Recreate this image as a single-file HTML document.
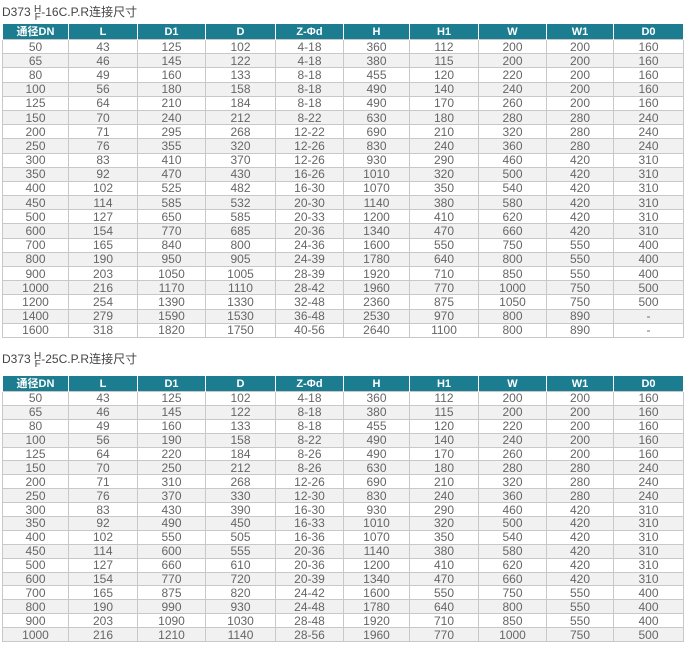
<!DOCTYPE html>
<html><head><meta charset="utf-8"><style>
body{margin:0;width:685px;height:648px;background:#fff;position:relative;overflow:hidden;font-family:"Liberation Sans","Noto Sans CJK SC",sans-serif;}
.t{position:absolute;left:2px;font-size:12px;color:#444;}
table{position:absolute;left:2px;border-collapse:collapse;table-layout:fixed;width:681px;font-size:12px;color:#666;}
td,th{border:1px solid #c8c8c8;text-align:center;padding:0;line-height:12px;overflow:hidden;white-space:nowrap;}
th{background:#1c7d90;color:#fff;font-weight:bold;font-size:11px;border-color:#fff;border-top:none;border-bottom:none;}
#a td{height:13.2px}
#b td{height:12.9px}
th{height:15px}
tr:nth-child(odd) td{background:#f1f1f1}
.f{display:inline-block;font-size:10px;line-height:8px;vertical-align:-4px;text-align:center}
</style></head><body>
<div class="t" style="top:3px">D373 <span class="f">H<br>F</span>-16C.P.R连接尺寸</div>
<table id="a" style="top:24px">
<colgroup><col style="width:66px"><col style="width:69px"><col style="width:68px"><col style="width:70px"><col style="width:68px"><col style="width:66px"><col style="width:69px"><col style="width:68px"><col style="width:67px"><col style="width:70px"></colgroup>
<tr><th>通径DN</th><th>L</th><th>D1</th><th>D</th><th>Z-Φd</th><th>H</th><th>H1</th><th>W</th><th>W1</th><th>D0</th></tr>
<tr><td>50</td><td>43</td><td>125</td><td>102</td><td>4-18</td><td>360</td><td>112</td><td>200</td><td>200</td><td>160</td></tr>
<tr><td>65</td><td>46</td><td>145</td><td>122</td><td>4-18</td><td>380</td><td>115</td><td>200</td><td>200</td><td>160</td></tr>
<tr><td>80</td><td>49</td><td>160</td><td>133</td><td>8-18</td><td>455</td><td>120</td><td>220</td><td>200</td><td>160</td></tr>
<tr><td>100</td><td>56</td><td>180</td><td>158</td><td>8-18</td><td>490</td><td>140</td><td>240</td><td>200</td><td>160</td></tr>
<tr><td>125</td><td>64</td><td>210</td><td>184</td><td>8-18</td><td>490</td><td>170</td><td>260</td><td>200</td><td>160</td></tr>
<tr><td>150</td><td>70</td><td>240</td><td>212</td><td>8-22</td><td>630</td><td>180</td><td>280</td><td>280</td><td>240</td></tr>
<tr><td>200</td><td>71</td><td>295</td><td>268</td><td>12-22</td><td>690</td><td>210</td><td>320</td><td>280</td><td>240</td></tr>
<tr><td>250</td><td>76</td><td>355</td><td>320</td><td>12-26</td><td>830</td><td>240</td><td>360</td><td>280</td><td>240</td></tr>
<tr><td>300</td><td>83</td><td>410</td><td>370</td><td>12-26</td><td>930</td><td>290</td><td>460</td><td>420</td><td>310</td></tr>
<tr><td>350</td><td>92</td><td>470</td><td>430</td><td>16-26</td><td>1010</td><td>320</td><td>500</td><td>420</td><td>310</td></tr>
<tr><td>400</td><td>102</td><td>525</td><td>482</td><td>16-30</td><td>1070</td><td>350</td><td>540</td><td>420</td><td>310</td></tr>
<tr><td>450</td><td>114</td><td>585</td><td>532</td><td>20-30</td><td>1140</td><td>380</td><td>580</td><td>420</td><td>310</td></tr>
<tr><td>500</td><td>127</td><td>650</td><td>585</td><td>20-33</td><td>1200</td><td>410</td><td>620</td><td>420</td><td>310</td></tr>
<tr><td>600</td><td>154</td><td>770</td><td>685</td><td>20-36</td><td>1340</td><td>470</td><td>660</td><td>420</td><td>310</td></tr>
<tr><td>700</td><td>165</td><td>840</td><td>800</td><td>24-36</td><td>1600</td><td>550</td><td>750</td><td>550</td><td>400</td></tr>
<tr><td>800</td><td>190</td><td>950</td><td>905</td><td>24-39</td><td>1780</td><td>640</td><td>800</td><td>550</td><td>400</td></tr>
<tr><td>900</td><td>203</td><td>1050</td><td>1005</td><td>28-39</td><td>1920</td><td>710</td><td>850</td><td>550</td><td>400</td></tr>
<tr><td>1000</td><td>216</td><td>1170</td><td>1110</td><td>28-42</td><td>1960</td><td>770</td><td>1000</td><td>750</td><td>500</td></tr>
<tr><td>1200</td><td>254</td><td>1390</td><td>1330</td><td>32-48</td><td>2360</td><td>875</td><td>1050</td><td>750</td><td>500</td></tr>
<tr><td>1400</td><td>279</td><td>1590</td><td>1530</td><td>36-48</td><td>2530</td><td>970</td><td>800</td><td>890</td><td>-</td></tr>
<tr><td>1600</td><td>318</td><td>1820</td><td>1750</td><td>40-56</td><td>2640</td><td>1100</td><td>800</td><td>890</td><td>-</td></tr>
</table>
<div class="t" style="top:350px">D373 <span class="f">H<br>F</span>-25C.P.R连接尺寸</div>
<table id="b" style="top:376px">
<colgroup><col style="width:66px"><col style="width:69px"><col style="width:68px"><col style="width:70px"><col style="width:68px"><col style="width:66px"><col style="width:69px"><col style="width:68px"><col style="width:67px"><col style="width:70px"></colgroup>
<tr><th>通径DN</th><th>L</th><th>D1</th><th>D</th><th>Z-Φd</th><th>H</th><th>H1</th><th>W</th><th>W1</th><th>D0</th></tr>
<tr><td>50</td><td>43</td><td>125</td><td>102</td><td>4-18</td><td>360</td><td>112</td><td>200</td><td>200</td><td>160</td></tr>
<tr><td>65</td><td>46</td><td>145</td><td>122</td><td>8-18</td><td>380</td><td>115</td><td>200</td><td>200</td><td>160</td></tr>
<tr><td>80</td><td>49</td><td>160</td><td>133</td><td>8-18</td><td>455</td><td>120</td><td>220</td><td>200</td><td>160</td></tr>
<tr><td>100</td><td>56</td><td>190</td><td>158</td><td>8-22</td><td>490</td><td>140</td><td>240</td><td>200</td><td>160</td></tr>
<tr><td>125</td><td>64</td><td>220</td><td>184</td><td>8-26</td><td>490</td><td>170</td><td>260</td><td>200</td><td>160</td></tr>
<tr><td>150</td><td>70</td><td>250</td><td>212</td><td>8-26</td><td>630</td><td>180</td><td>280</td><td>280</td><td>240</td></tr>
<tr><td>200</td><td>71</td><td>310</td><td>268</td><td>12-26</td><td>690</td><td>210</td><td>320</td><td>280</td><td>240</td></tr>
<tr><td>250</td><td>76</td><td>370</td><td>330</td><td>12-30</td><td>830</td><td>240</td><td>360</td><td>280</td><td>240</td></tr>
<tr><td>300</td><td>83</td><td>430</td><td>390</td><td>16-30</td><td>930</td><td>290</td><td>460</td><td>420</td><td>310</td></tr>
<tr><td>350</td><td>92</td><td>490</td><td>450</td><td>16-33</td><td>1010</td><td>320</td><td>500</td><td>420</td><td>310</td></tr>
<tr><td>400</td><td>102</td><td>550</td><td>505</td><td>16-36</td><td>1070</td><td>350</td><td>540</td><td>420</td><td>310</td></tr>
<tr><td>450</td><td>114</td><td>600</td><td>555</td><td>20-36</td><td>1140</td><td>380</td><td>580</td><td>420</td><td>310</td></tr>
<tr><td>500</td><td>127</td><td>660</td><td>610</td><td>20-36</td><td>1200</td><td>410</td><td>620</td><td>420</td><td>310</td></tr>
<tr><td>600</td><td>154</td><td>770</td><td>720</td><td>20-39</td><td>1340</td><td>470</td><td>660</td><td>420</td><td>310</td></tr>
<tr><td>700</td><td>165</td><td>875</td><td>820</td><td>24-42</td><td>1600</td><td>550</td><td>750</td><td>550</td><td>400</td></tr>
<tr><td>800</td><td>190</td><td>990</td><td>930</td><td>24-48</td><td>1780</td><td>640</td><td>800</td><td>550</td><td>400</td></tr>
<tr><td>900</td><td>203</td><td>1090</td><td>1030</td><td>28-48</td><td>1920</td><td>710</td><td>850</td><td>550</td><td>400</td></tr>
<tr><td>1000</td><td>216</td><td>1210</td><td>1140</td><td>28-56</td><td>1960</td><td>770</td><td>1000</td><td>750</td><td>500</td></tr>
</table>
</body></html>
